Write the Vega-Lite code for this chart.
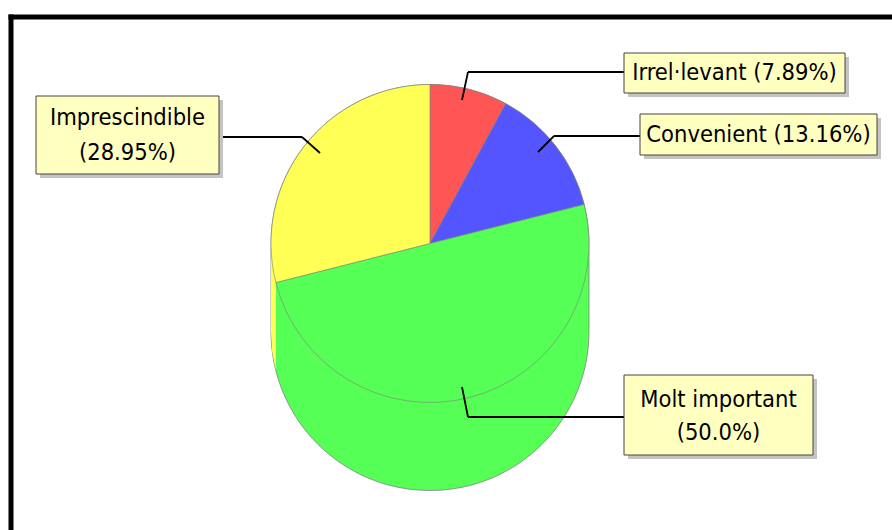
{
  "$schema": "https://vega.github.io/schema/vega-lite/v6.json",
  "width": 881,
  "height": 513,
  "autosize": {"type": "none"},
  "padding": {"left": 11, "top": 17, "right": 0, "bottom": 0},
  "background": "white",
  "config": {"view": {"stroke": null}},
  "data": {
    "values": [
      {"category": "Irrel·levant", "count": 3, "order": 1, "label": "Irrel·levant (7.89%)"},
      {"category": "Convenient", "count": 5, "order": 2, "label": "Convenient (13.16%)"},
      {"category": "Molt important", "count": 19, "order": 3, "label": "Molt important\n(50.0%)"},
      {"category": "Imprescindible", "count": 11, "order": 4, "label": "Imprescindible\n(28.95%)"}
    ]
  },
  "layer": [
    {
      "transform": [{"filter": "datum.order === 1"}],
      "layer": [
        {"mark": {"type": "rule", "stroke": "black", "strokeWidth": 5, "strokeCap": "square"},
          "encoding": {"x": {"value": 0}, "y": {"value": 0}, "y2": {"value": 520}}},
        {"mark": {"type": "rule", "stroke": "black", "strokeWidth": 5, "strokeCap": "square"},
          "encoding": {"x": {"value": 0}, "x2": {"value": 890}, "y": {"value": 0}}}
      ]
    },
    {
      "transform": [{"filter": "datum.order === 3"}],
      "mark": {"type": "point", "filled": true, "opacity": 1, "size": 40000, "x": 419, "y": 226.5, "stroke": "#808080", "strokeWidth": 0.8,
        "shape": "M-1.59,0 C-1.59,-0.8781 -0.8781,-1.59 0,-1.59 C0.8781,-1.59 1.59,-0.8781 1.59,0 L1.59,0.88 C1.59,1.7581 0.8781,2.47 0,2.47 C-0.8781,2.47 -1.59,1.7581 -1.59,0.88 Z"},
      "encoding": {
        "color": {"field": "category", "type": "nominal", "legend": null,
          "scale": {"domain": ["Irrel·levant", "Convenient", "Molt important", "Imprescindible"], "range": ["#FF5555", "#5555FF", "#55FF55", "#FFFF55"]}}
      }
    },
    {
      "transform": [{"filter": "datum.order === 4"}],
      "mark": {"type": "point", "filled": true, "opacity": 1, "size": 40000, "x": 419, "y": 226.5, "strokeWidth": 0,
        "shape": "M-1.59,0 L-1.5778,0.1965 L-1.5414,0.39 L-1.5414,1.27 L-1.5778,1.0765 L-1.59,0.88 Z"},
      "encoding": {
        "color": {"field": "category", "type": "nominal", "legend": null}
      }
    },
    {
      "mark": {"type": "arc", "radius": 159, "x": 419, "y": 226.5, "stroke": "#808080", "strokeWidth": 0.6},
      "encoding": {
        "theta": {"field": "count", "type": "quantitative", "stack": true},
        "order": {"field": "order", "type": "quantitative"},
        "color": {"field": "category", "type": "nominal", "legend": null}
      }
    },
    {
      "transform": [{"filter": "datum.order === 1"}],
      "layer": [
        {"mark": {"type": "rule", "stroke": "black", "strokeWidth": 1.8}, "encoding": {"x": {"value": 613}, "x2": {"value": 457}, "y": {"value": 55}, "y2": {"value": 55}}},
        {"mark": {"type": "rule", "stroke": "black", "strokeWidth": 1.8}, "encoding": {"x": {"value": 457}, "x2": {"value": 451}, "y": {"value": 55}, "y2": {"value": 83}}},
        {"mark": {"type": "rect", "x": 617, "x2": 838, "y": 40, "y2": 80, "fill": "#c4c4c4"}, "encoding": {}},
        {"mark": {"type": "rect", "x": 613, "x2": 834, "y": 36, "y2": 76, "fill": "#FFFFC0", "stroke": "#444", "strokeWidth": 1}, "encoding": {}},
        {"mark": {"type": "text", "x": 723.5, "y": 56, "align": "center", "baseline": "middle", "font": "DejaVu Sans Condensed", "fontSize": 23.5, "color": "black"},
          "encoding": {"text": {"field": "label"}}}
      ]
    },
    {
      "transform": [{"filter": "datum.order === 2"}],
      "layer": [
        {"mark": {"type": "rule", "stroke": "black", "strokeWidth": 1.8}, "encoding": {"x": {"value": 629}, "x2": {"value": 543}, "y": {"value": 119}, "y2": {"value": 119}}},
        {"mark": {"type": "rule", "stroke": "black", "strokeWidth": 1.8}, "encoding": {"x": {"value": 543}, "x2": {"value": 527}, "y": {"value": 119}, "y2": {"value": 135}}},
        {"mark": {"type": "rect", "x": 633, "x2": 870, "y": 101, "y2": 142, "fill": "#c4c4c4"}, "encoding": {}},
        {"mark": {"type": "rect", "x": 629, "x2": 866, "y": 97, "y2": 138, "fill": "#FFFFC0", "stroke": "#444", "strokeWidth": 1}, "encoding": {}},
        {"mark": {"type": "text", "x": 747.5, "y": 117.5, "align": "center", "baseline": "middle", "font": "DejaVu Sans Condensed", "fontSize": 23.5, "color": "black"},
          "encoding": {"text": {"field": "label"}}}
      ]
    },
    {
      "transform": [{"filter": "datum.order === 3"}],
      "layer": [
        {"mark": {"type": "rule", "stroke": "black", "strokeWidth": 1.8}, "encoding": {"x": {"value": 613}, "x2": {"value": 457}, "y": {"value": 400}, "y2": {"value": 400}}},
        {"mark": {"type": "rule", "stroke": "black", "strokeWidth": 1.8}, "encoding": {"x": {"value": 457}, "x2": {"value": 451}, "y": {"value": 400}, "y2": {"value": 370}}},
        {"mark": {"type": "rect", "x": 617, "x2": 806, "y": 362, "y2": 442, "fill": "#c4c4c4"}, "encoding": {}},
        {"mark": {"type": "rect", "x": 613, "x2": 802, "y": 358, "y2": 438, "fill": "#FFFFC0", "stroke": "#444", "strokeWidth": 1}, "encoding": {}},
        {"mark": {"type": "text", "x": 707.5, "y": 383, "align": "center", "baseline": "middle", "lineBreak": "\n", "lineHeight": 33, "font": "DejaVu Sans Condensed", "fontSize": 23.5, "color": "black"},
          "encoding": {"text": {"field": "label"}}}
      ]
    },
    {
      "transform": [{"filter": "datum.order === 4"}],
      "layer": [
        {"mark": {"type": "rule", "stroke": "black", "strokeWidth": 1.8}, "encoding": {"x": {"value": 208}, "x2": {"value": 291}, "y": {"value": 120}, "y2": {"value": 120}}},
        {"mark": {"type": "rule", "stroke": "black", "strokeWidth": 1.8}, "encoding": {"x": {"value": 291}, "x2": {"value": 309}, "y": {"value": 120}, "y2": {"value": 136}}},
        {"mark": {"type": "rect", "x": 29, "x2": 212, "y": 83, "y2": 161, "fill": "#c4c4c4"}, "encoding": {}},
        {"mark": {"type": "rect", "x": 25, "x2": 208, "y": 79, "y2": 157, "fill": "#FFFFC0", "stroke": "#444", "strokeWidth": 1}, "encoding": {}},
        {"mark": {"type": "text", "x": 116.5, "y": 101, "align": "center", "baseline": "middle", "lineBreak": "\n", "lineHeight": 35, "font": "DejaVu Sans Condensed", "fontSize": 23.5, "color": "black"},
          "encoding": {"text": {"field": "label"}}}
      ]
    }
  ]
}
